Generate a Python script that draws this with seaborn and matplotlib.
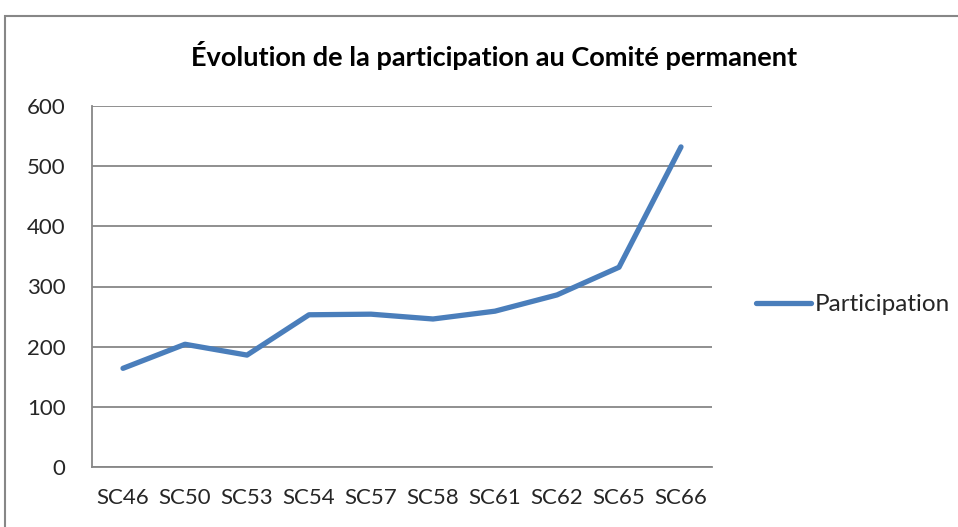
import matplotlib
matplotlib.use("Agg")
import matplotlib.pyplot as plt
from matplotlib.patches import Rectangle
import seaborn as sns
import pandas as pd

# data
sessions = ["SC46", "SC50", "SC53", "SC54", "SC57", "SC58", "SC61", "SC62", "SC65", "SC66"]
participation = [164, 204, 186, 253, 254, 246, 259, 286, 332, 532]

df = pd.DataFrame({"Session": sessions, "Participation": participation})
df["pos"] = range(len(sessions))

sns.set_theme(style="white")
plt.rcParams["font.family"] = ["Lato", "DejaVu Sans"]

fig = plt.figure(figsize=(9.58, 5.27), dpi=100)
ax = fig.add_axes([92 / 958, 60 / 527, 620 / 958, 361 / 527])

sns.lineplot(data=df, x="pos", y="Participation", ax=ax, color="#4A7EBB",
             linewidth=3.8, label="Participation", solid_capstyle="round")

grey = "#878787"
ax.set_xlim(-0.5, len(sessions) - 0.5)
ax.set_ylim(0, 600)
ax.set_yticks(range(0, 601, 100))
ax.yaxis.grid(True, color=grey, linewidth=1.3)
ax.set_xticks([i for i in range(len(sessions))])
ax.set_xticklabels(sessions, fontsize=16)
ax.set_xticks([i - 0.5 for i in range(len(sessions) + 1)], minor=True)
ax.tick_params(axis="x", which="major", length=0, pad=15)
ax.tick_params(axis="x", which="minor", length=7, width=1.3, color=grey, direction="out")
ax.tick_params(axis="y", length=7, width=1.3, color=grey, direction="out", labelsize=16, pad=12)
ax.set_xlabel("")
ax.set_ylabel("")
for s in ["top", "right"]:
    ax.spines[s].set_visible(False)
for s in ["left", "bottom"]:
    ax.spines[s].set_color(grey)
    ax.spines[s].set_linewidth(1.3)

fig.text(494 / 958, 0.895, "Évolution de la participation au Comité permanent",
         ha="center", va="center", fontsize=19.5, fontweight="bold", color="black")

ax.legend(loc="center left", bbox_to_anchor=(1.035, 0.45), frameon=False,
          fontsize=17.5, handlelength=2.3, handletextpad=0.15)

# outer chart border
fig.patches.append(Rectangle((5 / 958, -0.1), 2, 1.1 - 16 / 527,
                             transform=fig.transFigure, fill=False,
                             edgecolor=grey, linewidth=1.5))

fig.savefig("out.png", dpi=100)
